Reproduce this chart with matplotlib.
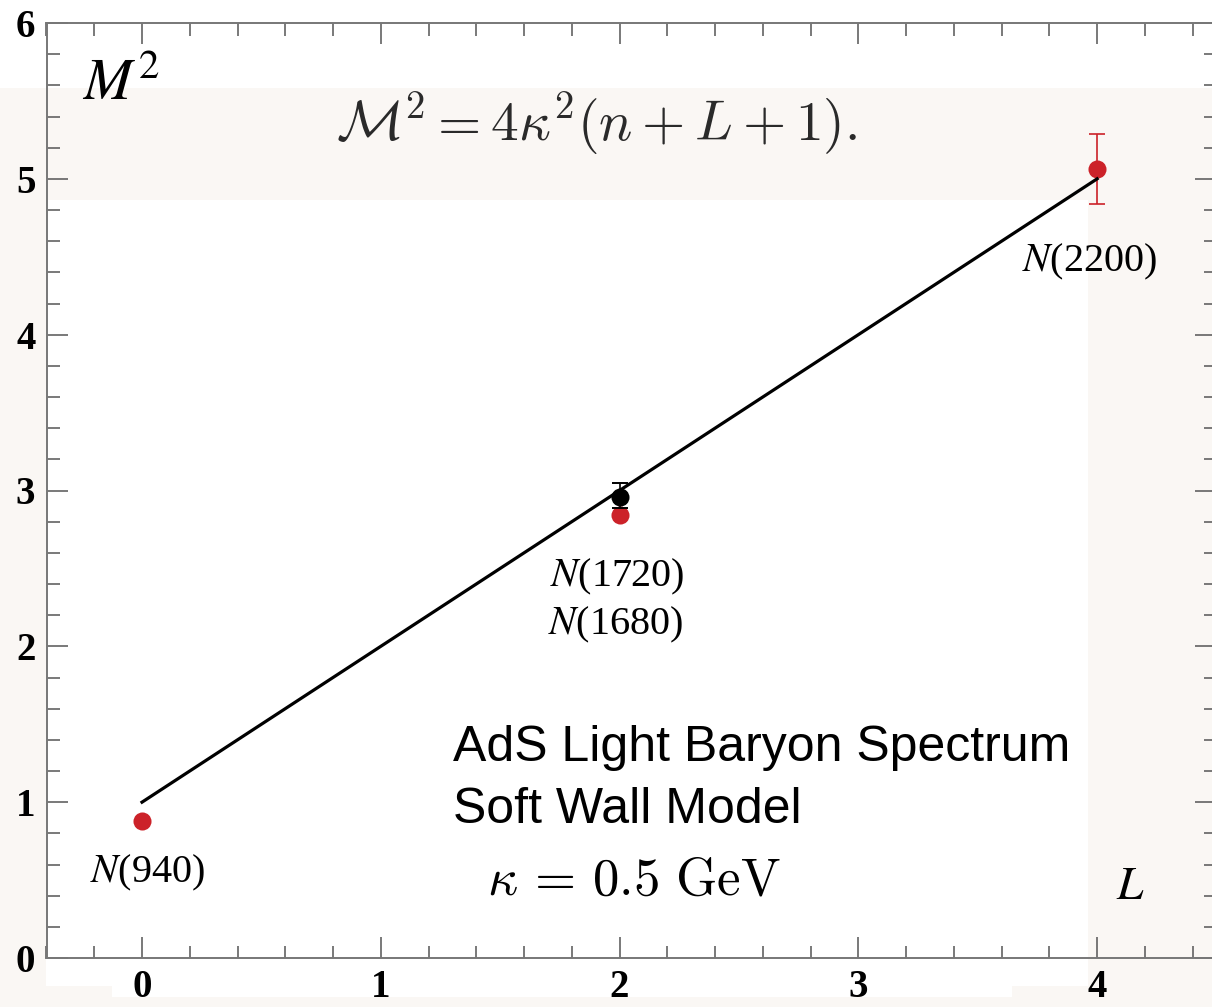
import numpy as np
import matplotlib
matplotlib.use('Agg')
import matplotlib.pyplot as plt
from matplotlib.patches import Rectangle
from matplotlib.ticker import MultipleLocator

plt.rcParams['mathtext.fontset'] = 'stix'
plt.rcParams['font.family'] = ['Liberation Serif', 'DejaVu Serif']

# model line M^2 = 4 kappa^2 (n + L + 1), kappa = 0.5 GeV, n = 0
L_model = [0, 4]
M2_model = [1.0, 5.0]

# red (measured) states
red_names = ['N(940)', 'N(1680)', 'N(2200)']
red_L = [0, 2, 4]
red_M2 = [0.88, 2.84, 5.06]
red_err_lo = [0.0, 0.0, 0.22]
red_err_hi = [0.0, 0.0, 0.23]

# black state
black_names = ['N(1720)']
black_L = [2]
black_M2 = [2.96]
black_err_lo = [0.07]
black_err_hi = [0.09]

RED = '#cc2229'
BEIGE = '#faf7f4'

W, H = 1212, 1007
fig = plt.figure(figsize=(W / 100, H / 100), dpi=100)
fig.patch.set_facecolor('white')

# light shaded blocks behind the plot
def px_rect(x0, y0, x1, y1):
    fig.patches.append(Rectangle((x0 / W, 1 - y1 / H), (x1 - x0) / W, (y1 - y0) / H,
                                 transform=fig.transFigure, facecolor=BEIGE,
                                 edgecolor='none', zorder=-5))

px_rect(0, 88, W, 200)
px_rect(0, 88, 46, H)
px_rect(1088, 88, W, H)
px_rect(0, 986, 112, H)
px_rect(112, 997, 1012, H)
px_rect(1012, 986, 1088, H)

ax = fig.add_axes([46.5 / W, 49 / H, 1170 / W, 935 / H])
ax.set_facecolor('none')
ax.set_xlim(-0.4, 4.5)
ax.set_ylim(0, 6)

ax.xaxis.set_major_locator(MultipleLocator(1))
ax.xaxis.set_minor_locator(MultipleLocator(0.2))
ax.yaxis.set_major_locator(MultipleLocator(1))
ax.yaxis.set_minor_locator(MultipleLocator(0.2))
ax.tick_params(which='both', direction='in', top=True, right=True,
               color='#555555', width=1.1)
ax.tick_params(which='major', length=15, labelsize=28)
ax.tick_params(which='minor', length=9)
ax.tick_params(axis='x', which='major', pad=8)
ax.tick_params(axis='y', which='major', pad=8)
for lab in ax.get_xticklabels() + ax.get_yticklabels():
    lab.set_fontweight('bold')
for sp in ax.spines.values():
    sp.set_color('#777777')
    sp.set_linewidth(1.4)

# model line
ax.plot(L_model, M2_model, color='black', lw=2.3, zorder=4)

# data points
for L, m, lo, hi in zip(red_L, red_M2, red_err_lo, red_err_hi):
    if lo > 0 or hi > 0:
        ax.errorbar([L], [m], yerr=[[lo], [hi]], fmt='none', ecolor=RED,
                    elinewidth=1.2, capsize=6, capthick=1.2, zorder=3)
ax.plot(red_L, red_M2, 'o', color=RED, ms=13, mec='none', zorder=3)

ax.errorbar(black_L, black_M2, yerr=[black_err_lo, black_err_hi], fmt='o',
            color='black', ms=13, mec='none', elinewidth=1.2, capsize=6,
            capthick=1.4, zorder=5)

# state labels
lab_kw = dict(fontsize=29, ha='center', va='center', zorder=6)
ax.text(0.025, 0.545, r'$N$(940)', **lab_kw)
ax.text(1.99, 2.445, r'$N$(1720)', **lab_kw)
ax.text(1.985, 2.137, r'$N$(1680)', **lab_kw)
ax.text(3.97, 4.467, r'$N$(2200)', **lab_kw)

# axis labels inside the frame
ax.text(-0.25, 5.60, r'$M^2$', fontsize=42, ha='left', va='center')
ax.text(4.14, 0.45, r'$L$', fontsize=34, ha='center', va='center')

# formula
ax.text(1.906, 5.35, r'$\mathcal{M}^2 = 4\kappa^2(n + L + 1).$', fontsize=40,
        math_fontfamily='cm', ha='center', va='center', color='#2a2a2a')

# caption
sans = ['Liberation Sans', 'DejaVu Sans']
ax.text(1.303, 1.35, 'AdS Light Baryon Spectrum', fontsize=36,
        family=sans, ha='left', va='center')
ax.text(1.303, 0.95, 'Soft Wall Model', fontsize=36,
        family=sans, ha='left', va='center')
ax.text(1.445, 0.49, r'$\kappa\,=\,0.5\ \mathrm{GeV}$', fontsize=38,
        math_fontfamily='cm', ha='left', va='center')

fig.savefig('out.png', dpi=100)
